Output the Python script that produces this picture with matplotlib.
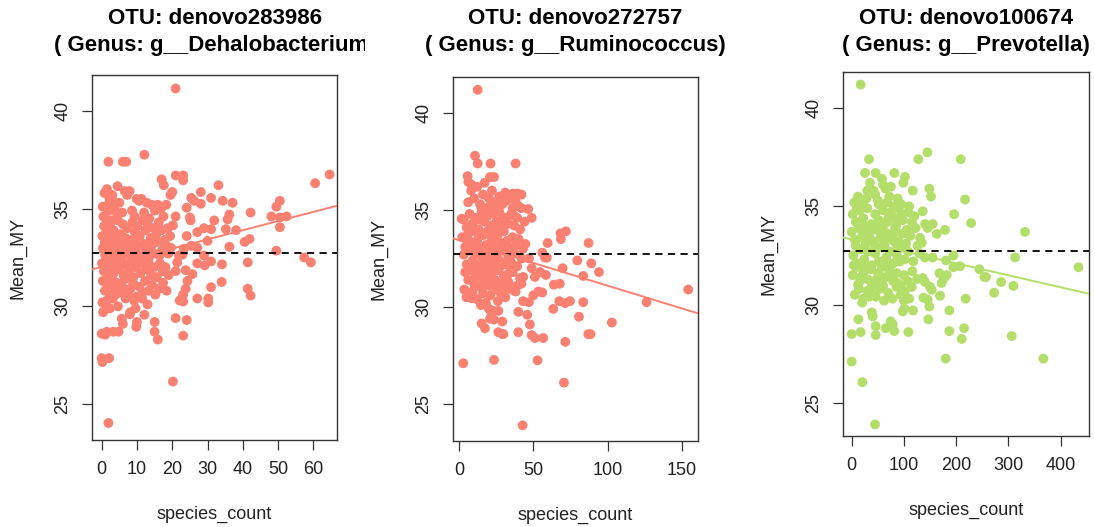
import matplotlib
matplotlib.use("Agg")
import matplotlib.pyplot as plt
import numpy as np
from matplotlib.transforms import Bbox, TransformedBbox

plt.rcParams['font.family'] = ['Liberation Sans', 'DejaVu Sans']

otu_ids = ["denovo283986", "denovo272757", "denovo100674"]
genera = ["g__Dehalobacterium", "g__Ruminococcus", "g__Prevotella"]
point_colors = ["#FA8072", "#FA8072", "#B3DE69"]
mean_my = 32.75
# (intercept, slope) of the fitted lines
fits = [(32.02, 0.0469), (33.44, -0.0234), (33.32, -0.0061)]

# (species_count, Mean_MY) pairs, panel 1
otu1_points = [
    (20.95, 41.15), (12.1, 37.76), (1.9, 37.4), (6.0, 37.4), (6.95, 37.4), (64.6, 36.75), (60.5, 36.3),
    (21.0, 36.7), (23.1, 36.7), (23.1, 36.45), (17.0, 36.5), (17.6, 36.2), (33.1, 36.2), (28.1, 35.85),
    (20.0, 35.85), (19.5, 35.7), (31.0, 35.55), (25.4, 35.55), (26.2, 35.4), (34.3, 35.4), (37.1, 35.3),
    (28.1, 35.25), (50.5, 35.4), (49.5, 35.1), (24.1, 35.05), (42.2, 34.8), (20.95, 34.6), (25.0, 34.55),
    (25.2, 34.4), (31.9, 34.4), (36.2, 34.7), (35.7, 34.45), (48.1, 34.6), (52.4, 34.6), (50.5, 34.55),
    (50.5, 34.05), (20.2, 34.15), (29.0, 34.0), (31.0, 33.95), (27.1, 33.8), (35.2, 33.95), (38.1, 33.9),
    (24.1, 33.6), (41.9, 33.45), (40.5, 33.3), (30.0, 33.35), (36.2, 33.05), (25.4, 33.1), (27.1, 33.0),
    (23.3, 32.95), (49.5, 32.85), (57.4, 32.5), (59.3, 32.25), (29.0, 32.6), (22.9, 32.65), (21.9, 32.6),
    (41.4, 32.25), (34.1, 32.15), (31.0, 32.3), (27.1, 32.2), (29.2, 32.1), (21.4, 32.25), (23.8, 31.85),
    (25.7, 31.65), (20.95, 31.8), (34.0, 31.25), (24.3, 31.3), (23.8, 30.9), (23.1, 30.6), (31.0, 30.98),
    (41.4, 30.9), (42.2, 30.55), (27.1, 30.4), (30.2, 30.4), (30.2, 30.2), (22.1, 30.3), (23.1, 30.25),
    (20.95, 29.4), (24.1, 29.3), (23.1, 28.5), (15.0, 29.2), (15.0, 28.7), (15.9, 28.3), (12.1, 29.57),
    (10.0, 29.2), (9.8, 28.95), (8.1, 29.7), (5.7, 29.37), (6.0, 29.1), (4.8, 28.7), (3.3, 28.7),
    (1.4, 28.7), (0.0, 28.6), (1.0, 28.55), (0.0, 27.35), (2.1, 27.35), (0.2, 27.15), (20.2, 26.15),
    (1.9, 24.03),
    (0.3, 35.1), (0.8, 35.8), (1.5, 36.0), (2.2, 35.5), (3.0, 35.7), (0.5, 34.6), (1.2, 34.2), (2.0, 34.9),
    (2.8, 34.4), (3.6, 35.0), (4.5, 36.15), (5.0, 35.3), (5.8, 34.8), (6.5, 35.9), (7.2, 35.7), (7.9, 35.9),
    (8.6, 34.9), (9.3, 34.6), (9.9, 35.5), (10.6, 35.4), (11.3, 35.5), (12.0, 34.8), (12.8, 35.3),
    (13.5, 34.5), (14.2, 35.2), (15.1, 34.9), (15.9, 35.2), (16.8, 35.0), (17.5, 34.6), (18.3, 35.2),
    (0.2, 33.6), (0.7, 34.1), (1.4, 33.8), (2.1, 33.4), (2.6, 34.3), (3.3, 33.9), (4.0, 33.5), (4.6, 34.4),
    (5.3, 33.7), (6.0, 34.2), (6.7, 33.5), (7.3, 34.0), (8.0, 33.4), (8.7, 34.3), (9.4, 33.8), (10.1, 34.1),
    (10.8, 33.6), (11.6, 34.4), (12.4, 33.9), (13.1, 34.2), (13.9, 33.5), (14.7, 34.0), (15.5, 33.7),
    (16.2, 34.3), (17.0, 33.9), (17.8, 33.4), (18.7, 34.0), (19.4, 33.6),
    (0.4, 33.0), (1.0, 32.6), (1.7, 33.3), (2.4, 32.8), (3.1, 33.1), (3.8, 32.5), (4.4, 33.3), (5.1, 32.9),
    (5.7, 32.6), (6.4, 33.2), (7.0, 32.7), (7.7, 33.0), (8.4, 32.5), (9.1, 33.3), (9.7, 32.8), (10.4, 33.1),
    (11.1, 32.6), (11.9, 33.2), (12.6, 32.9), (13.4, 32.5), (14.1, 33.1), (14.9, 32.7), (15.7, 33.3),
    (16.4, 32.6), (17.2, 32.9), (18.0, 33.2), (18.9, 32.7), (19.6, 33.0),
    (0.1, 32.2), (0.6, 31.8), (1.3, 32.4), (1.9, 31.6), (2.7, 32.1), (3.4, 31.7), (4.1, 32.3), (4.8, 31.9),
    (5.5, 32.4), (6.2, 31.6), (6.9, 32.1), (7.6, 31.8), (8.3, 32.3), (9.0, 31.5), (9.6, 32.0), (10.3, 32.4),
    (11.0, 31.7), (11.7, 32.2), (12.5, 31.9), (13.2, 32.3), (14.0, 31.6), (14.8, 32.0), (15.6, 31.5),
    (16.5, 32.2), (17.3, 31.8), (18.1, 32.0), (19.0, 31.6),
    (0.3, 31.3), (0.9, 30.8), (1.6, 31.1), (2.3, 30.6), (3.0, 31.4), (3.7, 30.9), (4.3, 31.2), (5.0, 30.7),
    (5.9, 31.0), (6.6, 31.4), (7.4, 30.6), (8.1, 30.9), (8.9, 31.2), (9.8, 30.5), (10.7, 31.0), (11.5, 30.7),
    (12.3, 31.3), (13.3, 30.8), (14.3, 31.1), (15.2, 30.6), (16.3, 30.9), (17.4, 31.2), (18.4, 30.8),
    (0.2, 30.2), (0.8, 29.8), (1.5, 30.3), (2.3, 29.9), (3.2, 30.4), (4.6, 30.0), (6.8, 30.4), (8.0, 29.6),
    (9.2, 30.3), (9.6, 29.9), (11.5, 30.4), (13.0, 30.1),
    (0.5, 32.9), (1.1, 34.5), (1.8, 35.2), (2.5, 31.3), (3.5, 32.7), (4.2, 34.8), (0.9, 33.3), (2.9, 33.7),
    (4.9, 32.2), (1.4, 31.9), (3.9, 30.6), (0.4, 29.7), (2.0, 32.3), (3.3, 35.4), (4.7, 33.0),
]

# panel 2
otu2_points = [
    (12.4, 41.2), (10.6, 37.8), (12.4, 37.4), (21.1, 37.4), (38.0, 37.4), (5.6, 36.75), (6.1, 36.45),
    (8.3, 36.3), (20.7, 36.7), (23.4, 36.7), (39.3, 35.85), (36.4, 35.85), (35.3, 35.6), (46.5, 35.05),
    (48.8, 34.6), (41.8, 35.1), (1.6, 34.55), (68.3, 33.8), (71.9, 33.9), (68.5, 33.5), (59.6, 33.3),
    (44.5, 33.25), (87.2, 33.3), (56.0, 32.8), (57.8, 32.55), (59.0, 32.55), (47.0, 32.5), (79.6, 32.4),
    (89.0, 32.25), (69.7, 32.0), (94.2, 31.8), (48.8, 32.0), (51.0, 31.55), (54.6, 31.8), (58.4, 31.65),
    (83.6, 31.6), (43.1, 31.55), (41.9, 31.2), (63.8, 31.15), (67.8, 31.2), (53.3, 30.8), (56.0, 30.75),
    (49.9, 30.6), (154.4, 30.9), (126.3, 30.25), (67.4, 30.3), (71.3, 30.2), (74.6, 30.3), (83.6, 30.25),
    (47.0, 30.25), (43.0, 30.3), (63.4, 29.9), (39.8, 29.75), (45.8, 29.6), (80.7, 29.5), (102.9, 29.2),
    (47.6, 29.1), (48.8, 28.55), (51.0, 28.4), (56.6, 28.4), (39.8, 28.7), (87.0, 28.6), (88.5, 28.6),
    (71.5, 28.2), (26.3, 28.7), (29.0, 28.6), (29.7, 28.6), (29.0, 29.25), (23.4, 27.27), (52.8, 27.25),
    (2.7, 27.1), (70.6, 26.1), (42.7, 23.9), (15.1, 29.15), (17.3, 28.9), (21.8, 29.7), (20.7, 29.4),
    (23.4, 29.35), (26.3, 29.8), (3.4, 30.9), (4.9, 30.5), (8.3, 30.45), (14.6, 30.1), (17.5, 30.2),
    (6, 35.4), (8, 36.0), (10, 35.6), (12, 36.2), (14, 35.3), (16, 35.8), (18, 35.1), (20, 35.6), (22, 36.0),
    (24, 35.4), (26, 35.0), (29, 35.3), (32, 35.5), (34, 35.7), (36, 35.1), (38, 35.5), (40, 35.2),
    (42, 35.8), (31, 35.9), (17, 36.4),
    (3, 34.5), (5, 34.1), (7, 34.8), (9, 34.3), (11, 34.6), (13, 34.0), (15, 34.9), (17, 34.4), (19, 34.7),
    (21, 34.2), (23, 34.8), (25, 34.4), (27, 34.9), (29, 34.1), (31, 34.6), (33, 34.3), (35, 34.8),
    (37, 34.2), (39, 34.6), (41, 34.0), (44, 34.4), (14, 34.5), (26, 34.0),
    (2, 33.6), (4, 33.1), (6, 33.8), (8, 33.3), (10, 33.9), (12, 33.4), (14, 33.0), (16, 33.7), (18, 33.2),
    (20, 33.8), (22, 33.5), (24, 33.1), (26, 33.7), (28, 33.3), (30, 33.9), (32, 33.4), (34, 33.0),
    (36, 33.6), (38, 33.2), (40, 33.5), (19, 33.9), (25, 34.0), (9, 33.0),
    (3, 32.7), (5, 32.2), (7, 32.9), (9, 32.4), (11, 32.8), (13, 32.1), (15, 32.6), (17, 32.3), (19, 32.9),
    (21, 32.5), (23, 32.1), (25, 32.7), (27, 32.4), (29, 32.9), (31, 32.2), (33, 32.6), (35, 32.3),
    (37, 32.8), (39, 32.1), (42, 32.5), (20, 32.0),
    (4, 31.8), (6, 31.4), (8, 31.9), (10, 31.2), (12, 31.6), (14, 31.9), (16, 31.3), (18, 31.7), (20, 31.1),
    (22, 31.8), (24, 31.4), (26, 31.9), (28, 31.2), (30, 31.6), (33, 31.3), (36, 31.8), (39, 31.1),
    (41, 31.5), (15, 31.0), (25, 31.0),
    (9, 30.8), (12, 30.4), (16, 30.7), (18, 30.2), (21, 30.6), (24, 30.9), (26, 30.3), (28, 30.7),
    (31, 30.5), (35, 30.9), (38, 30.8), (20, 29.9), (23, 29.8),
    (7, 33.4), (11, 32.2), (13, 33.7), (17, 32.9), (19, 31.4), (23, 33.6), (27, 32.0), (29, 34.5),
    (31, 33.1), (33, 31.7), (35, 32.0), (37, 34.7), (15, 35.1), (21, 35.2), (27, 35.7), (11, 31.6),
    (24, 32.4), (30, 30.9), (34, 31.0), (43, 33.0),
]

# panel 3
otu3_points = [
    (17.2, 41.2), (144.8, 37.75), (127.6, 37.4), (33.2, 37.4), (208.6, 37.4), (25.5, 36.7), (45.9, 36.7),
    (81.7, 36.7), (102.0, 36.5), (98.9, 36.2), (148.6, 35.9), (151.8, 35.5), (116.7, 35.8), (216.9, 35.35),
    (135.9, 34.75), (195.9, 34.6), (228.4, 34.15), (140.4, 34.1), (155.0, 34.1), (145.5, 33.9),
    (178.6, 33.8), (162.7, 33.6), (331.7, 33.7), (130.8, 33.4), (134.0, 33.15), (312.6, 32.4),
    (155.0, 32.4), (194.6, 32.5), (180.5, 32.25), (207.3, 31.95), (194.6, 31.9), (244.3, 31.8),
    (167.8, 31.6), (181.8, 31.5), (253.9, 31.4), (257.0, 31.4), (135.9, 31.35), (140.4, 31.15),
    (172.2, 31.1), (176.7, 31.35), (285.8, 31.15), (309.4, 30.95), (149.9, 30.9), (153.1, 30.75),
    (272.4, 30.6), (433.8, 31.9), (169.0, 30.45), (137.2, 30.35), (145.5, 30.25), (148.6, 29.9),
    (218.2, 30.3), (186.9, 29.7), (146.7, 29.25), (215.0, 28.8), (210.5, 28.25), (186.9, 28.65),
    (306.2, 28.4), (179.9, 27.25), (366.8, 27.25), (0.0, 27.1), (20.4, 26.05), (44.7, 23.9),
    (0.0, 28.5), (17.2, 28.6), (45.9, 28.45), (45.9, 28.9), (81.7, 28.65), (65.1, 28.8), (108.5, 28.6),
    (12.8, 29.25), (38.3, 29.6), (40.2, 29.4), (74.6, 29.15), (78.5, 29.0), (97.6, 29.65), (100.8, 29.8),
    (117.3, 29.7),
    (5, 35.2), (12, 35.5), (20, 35.1), (28, 35.4), (35, 36.2), (42, 35.8), (50, 35.3), (58, 36.4),
    (65, 35.9), (72, 35.5), (80, 35.0), (88, 35.4), (95, 35.1), (60, 36.1), (75, 36.0), (110, 35.0),
    (45, 35.6), (30, 35.8),
    (2, 34.6), (8, 34.2), (15, 34.8), (22, 34.4), (30, 34.9), (38, 34.1), (45, 34.6), (52, 34.3),
    (60, 34.8), (68, 34.2), (75, 34.7), (82, 34.4), (90, 34.9), (98, 34.3), (108, 34.7), (115, 34.2),
    (120, 34.5), (55, 34.0), (85, 34.0),
    (0, 33.7), (6, 33.3), (13, 33.9), (20, 33.5), (27, 33.1), (34, 33.7), (41, 33.2), (48, 33.8),
    (55, 33.4), (62, 33.0), (69, 33.6), (76, 33.3), (83, 33.9), (90, 33.2), (97, 33.6), (104, 33.1),
    (112, 33.5), (126, 33.0), (60, 33.85), (40, 33.95),
    (3, 32.5), (10, 32.1), (17, 32.8), (24, 32.3), (31, 32.7), (38, 32.0), (45, 32.6), (52, 32.2),
    (59, 32.9), (66, 32.4), (73, 32.7), (80, 32.1), (87, 32.5), (94, 32.9), (101, 32.3), (108, 32.7),
    (118, 32.2), (130, 32.6), (140, 32.4),
    (2, 31.5), (9, 31.9), (16, 31.2), (23, 31.7), (30, 31.3), (37, 31.8), (44, 31.1), (51, 31.6),
    (58, 31.9), (65, 31.4), (72, 31.8), (79, 31.2), (86, 31.6), (93, 31.0), (100, 31.5), (107, 31.2),
    (116, 31.7), (125, 31.3),
    (6, 30.5), (14, 30.8), (22, 30.3), (30, 30.7), (38, 30.9), (46, 30.4), (54, 30.8), (62, 30.2),
    (70, 30.6), (78, 30.3), (86, 30.9), (94, 30.5), (102, 30.7), (110, 30.3), (20, 30.1), (60, 30.95),
    (10, 34.9), (25, 34.0), (35, 33.4), (50, 32.9), (65, 32.0), (80, 33.6), (95, 34.6), (18, 31.4),
    (33, 30.4), (48, 31.3), (63, 33.3), (78, 31.5), (92, 32.2), (105, 33.8), (8, 33.0), (24, 32.0),
    (40, 30.5), (56, 31.0), (70, 34.4), (85, 33.1), (100, 30.2), (12, 31.0), (28, 33.8), (52, 35.1),
    (68, 35.2), (88, 31.1), (115, 30.9), (122, 33.9), (4, 32.0), (45, 33.0),
]

all_points = [otu1_points, otu2_points, otu3_points]
x_ticks = [[0, 10, 20, 30, 40, 50, 60], [0, 50, 100, 150], [0, 100, 200, 300, 400]]
x_limits = [(-2.75, 66.7), (-4.25, 161), (-16.6, 454)]
y_ticks = [25, 30, 35, 40]

# axes boxes in figure pixels: left, top, right, bottom
W, H = 1095, 527
boxes = [(92, 75, 337, 440), (453, 77, 698, 441), (843, 72, 1089, 436)]
ylims = [(23.16, 41.84), (23.09, 41.86), (23.31, 41.84)]

fig = plt.figure(figsize=(W / 100, H / 100), dpi=100)
txt = "#222222"

for i in range(3):
    l, t, r, b = boxes[i]
    ax = fig.add_axes([l / W, 1 - b / H, (r - l) / W, (b - t) / H])
    pts = np.array(all_points[i])
    ax.scatter(pts[:, 0], pts[:, 1], s=50, color=point_colors[i], edgecolors='none', zorder=2)
    ax.axhline(mean_my, color='black', lw=1.3, ls=(0, (4, 3)), zorder=3)
    ic, sl = fits[i]
    ax.axline((0, ic), slope=sl, color=point_colors[i], lw=1.4, zorder=3)
    ax.set_xlim(*x_limits[i])
    ax.set_ylim(*ylims[i])
    ax.set_xticks(x_ticks[i])
    ax.set_yticks(y_ticks)
    ax.set_yticklabels([str(v) for v in y_ticks], rotation=90, va='center')
    ax.tick_params(direction='out', length=7, width=0.9, colors='#333333', labelcolor=txt,
                   labelsize=13, pad=8)
    for sp in ax.spines.values():
        sp.set_linewidth(1.0)
        sp.set_color('#333333')
    ax.set_xlabel("species_count", fontsize=13, color=txt, labelpad=20)
    ax.set_ylabel("Mean_MY", fontsize=13, color=txt, labelpad=20)

    cx = (l + r) / 2 / W
    clip = TransformedBbox(Bbox([[i / 3, 0], [(i + 1) / 3, 1]]), fig.transFigure)
    t1 = fig.text(cx, 1 - 19 / H, "OTU: " + otu_ids[i], ha='center', va='center',
                  fontsize=16, fontweight='bold', color='black')
    t2 = fig.text(cx, 1 - 46 / H, "( Genus: " + genera[i] + ")", ha='center', va='center',
                  fontsize=16, fontweight='bold', color='black')
    for tt in (t1, t2):
        tt.set_clip_on(True)
        tt.set_clip_box(clip)

fig.savefig("out.png", dpi=100)
